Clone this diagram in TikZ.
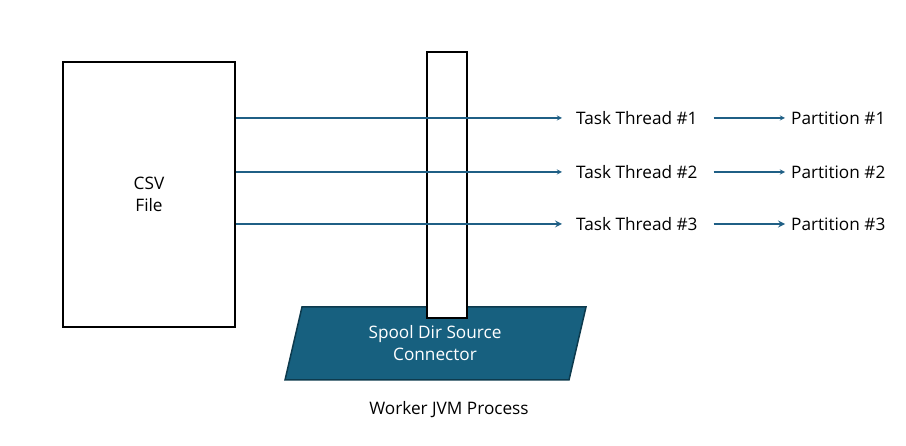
\documentclass[tikz,border=0pt]{standalone}
\usepackage{fontspec}
\setmainfont{Open Sans}
\usetikzlibrary{positioning}
\definecolor{flowblue}{HTML}{1F5F85}
\definecolor{connfill}{HTML}{17607F}
\definecolor{connedge}{HTML}{0D3A4D}
\begin{document}
\begin{tikzpicture}[x=1pt, y=-1pt, >=stealth, every node/.style={font=\fontsize{17.2}{22}\selectfont, inner sep=0pt}]
				\useasboundingbox (0,0) rectangle (906,446);
				% 1. 连接器平行四边形 (底层)
				\filldraw[fill=connfill, draw=connedge, line width=1.5pt] (302,307) -- (586,307) -- (569,380) -- (285,380) -- cycle;
				\node[white, align=center] (conn) at (435,343) {Spool Dir Source\\Connector};
				\node (worker) at (449,410) {Worker JVM Process};
				
				% 2. 文件框与进程竖条
				\node[draw, line width=2pt, fill=white, align=center, minimum width=172, minimum height=265] (csv) at (149,194.5) {CSV\\File};
				\node[draw, line width=2pt, fill=white, minimum width=40, minimum height=266] (jvm) at (447,185) {};
				
				% 3. 任务线程与分区 (上层)
				\foreach \i/\yy/\w in {1/118/1.3pt, 2/172/1.3pt, 3/224/2pt} {
					\node[anchor=west] (task\i) at (576,\yy) {Task Thread \#\i};
					\node[anchor=west] (part\i) at (791,\yy) {Partition \#\i};
					\draw[->, flowblue, line width=\w] (csv.east |- task\i) -- ([xshift=-14pt]task\i.west);
					\draw[->, flowblue, line width=\w] ([xshift=16pt]task\i.east) -- ([xshift=-6pt]part\i.west);
				}
			\end{tikzpicture}
\end{document}
